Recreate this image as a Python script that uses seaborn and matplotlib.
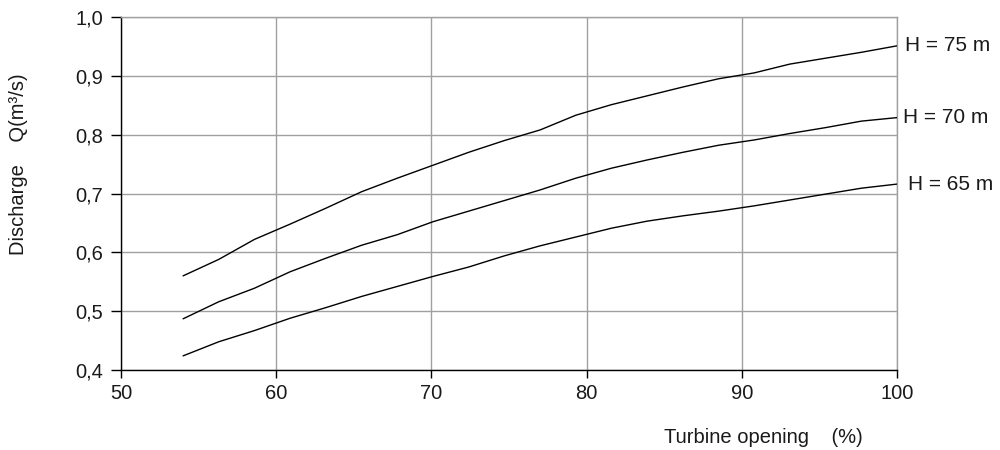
import matplotlib
matplotlib.use("Agg")
import matplotlib.pyplot as plt
import seaborn as sns
import pandas as pd

# Turbine opening (%) at which discharge was read
opening = [54.0, 56.3, 58.6, 60.9, 63.2, 65.5, 67.8, 70.1, 72.4, 74.7, 77.0,
           79.3, 81.6, 83.9, 86.2, 88.5, 90.8, 93.1, 95.4, 97.7, 100.0]

# Discharge Q (m³/s) for each head
q_h75 = [0.560, 0.588, 0.622, 0.648, 0.675, 0.703, 0.726, 0.748, 0.770, 0.790, 0.808,
         0.833, 0.851, 0.866, 0.881, 0.895, 0.905, 0.920, 0.930, 0.940, 0.951]
q_h70 = [0.487, 0.516, 0.539, 0.567, 0.590, 0.612, 0.630, 0.652, 0.670, 0.688, 0.706,
         0.726, 0.743, 0.757, 0.770, 0.782, 0.791, 0.802, 0.812, 0.823, 0.829]
q_h65 = [0.424, 0.448, 0.467, 0.488, 0.506, 0.525, 0.542, 0.559, 0.575, 0.594, 0.611,
         0.626, 0.641, 0.653, 0.662, 0.670, 0.679, 0.689, 0.699, 0.709, 0.716]

series_labels = ["H = 75 m", "H = 70 m", "H = 65 m"]
label_offsets = [(6, 0), (4, 0), (8, 0)]

x_ticks = [50, 60, 70, 80, 90, 100]
y_ticks = [0.4, 0.5, 0.6, 0.7, 0.8, 0.9, 1.0]
y_tick_labels = ["0,4", "0,5", "0,6", "0,7", "0,8", "0,9", "1,0"]

frames = []
for name, q in zip(series_labels, [q_h75, q_h70, q_h65]):
    frames.append(pd.DataFrame({"opening": opening, "Q": q, "head": name}))
df = pd.concat(frames, ignore_index=True)

sns.set_style("white")
plt.rcParams["font.family"] = ["Liberation Sans", "DejaVu Sans"]

fig = plt.figure(figsize=(10, 4.5), dpi=100)
ax = fig.add_axes([0.121, 0.1778, 0.776, 0.7844])

sns.lineplot(data=df, x="opening", y="Q", hue="head", units="head", estimator=None,
             palette=["black"] * 3, linewidth=1.0, legend=False, ax=ax, zorder=3)

ax.set_xlim(50, 100)
ax.set_ylim(0.4, 1.0)
ax.set_xticks(x_ticks)
ax.set_xticklabels([str(t) for t in x_ticks])
ax.set_yticks(y_ticks)
ax.set_yticklabels(y_tick_labels)

ax.grid(True, color="#a0a0a0", linewidth=1.0, zorder=0)
ax.set_axisbelow(True)
for side in ["top", "right"]:
    ax.spines[side].set_color("#a0a0a0")
    ax.spines[side].set_linewidth(1.0)
for side in ["left", "bottom"]:
    ax.spines[side].set_color("black")
    ax.spines[side].set_linewidth(1.0)

ax.tick_params(axis="y", direction="out", length=7, width=1.0, color="black",
               labelsize=14.5, labelcolor="#1a1a1a", pad=6, left=True)
ax.tick_params(axis="x", direction="out", length=6, width=1.0, color="black",
               labelsize=14.5, labelcolor="#1a1a1a", pad=4, bottom=True)

ax.set_xlabel("Turbine opening    (%)", fontsize=14.5, color="#1a1a1a")
ax.xaxis.set_label_coords(0.828, -0.165)
ax.set_ylabel("Discharge    Q(m³/s)", fontsize=14.5, color="#1a1a1a")
ax.yaxis.set_label_coords(-0.12, 0.583)

for name, q, off in zip(series_labels, [q_h75, q_h70, q_h65], label_offsets):
    ax.annotate(name, xy=(opening[-1], q[-1]), xytext=off, textcoords="offset points",
                ha="left", va="center", fontsize=15, color="#1a1a1a",
                annotation_clip=False)

fig.savefig("out.png", dpi=100)
